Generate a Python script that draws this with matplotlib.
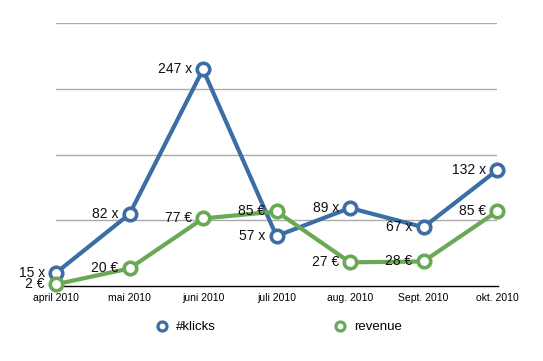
import matplotlib
matplotlib.use("Agg")
import matplotlib.pyplot as plt
from matplotlib.lines import Line2D

months = ["april 2010", "mai 2010", "juni 2010", "juli 2010", "aug. 2010", "Sept. 2010", "okt. 2010"]
klicks = [15, 82, 247, 57, 89, 67, 132]
revenue = [2, 20, 77, 85, 27, 28, 85]
y_ticks = [0, 75, 150, 225, 300]

plt.rcParams['font.family'] = ['Liberation Sans', 'DejaVu Sans']
blue = "#3c6da4"
green = "#69a855"

fig = plt.figure(figsize=(5.43, 3.61), dpi=100)
ax = fig.add_axes([56/543, 1-286/361, (497-56)/543, (286-23)/361])
x = list(range(len(months)))

for yv in y_ticks[1:]:
    ax.axhline(yv, color="#aaaaaa", lw=1, zorder=0)

ax.plot(x, klicks, color=blue, lw=3, marker="o", ms=9, mfc="white", mec=blue, mew=2.6, zorder=3, clip_on=False)
ax.plot(x, revenue, color=green, lw=3, marker="o", ms=9, mfc="white", mec=green, mew=2.6, zorder=4, clip_on=False)

for xi, v in zip(x, klicks):
    ax.annotate(f"{v} x", (xi, v), xytext=(-8, 0), textcoords="offset points",
                ha="right", va="center", fontsize=10, color="#111111", zorder=6)
for xi, v in zip(x, revenue):
    ax.annotate(f"{v} €", (xi, v), xytext=(-8, 0), textcoords="offset points",
                ha="right", va="center", fontsize=10, color="#111111", zorder=6)

ax.set_xlim(0, len(months) - 1)
ax.set_ylim(y_ticks[0], y_ticks[-1])
ax.set_yticks([])
ax.set_xticks(x)
ax.set_xticklabels(months, fontsize=7.5)
ax.tick_params(axis="x", length=0, pad=5)
for s in ["top", "right", "left"]:
    ax.spines[s].set_visible(False)
ax.spines["bottom"].set_color("black")
ax.spines["bottom"].set_linewidth(1)
ax.spines["bottom"].set_bounds(0, len(months) - 1 + 0.01)

handles = [Line2D([], [], ls="none", marker="o", ms=6.5, mfc="white", mec=blue, mew=2.3),
           Line2D([], [], ls="none", marker="o", ms=6.5, mfc="white", mec=green, mew=2.3)]
fig.legend(handles, ["#klicks", "revenue"], loc="center", bbox_to_anchor=(0.512, 1-327/361),
           ncol=2, frameon=False, fontsize=9.5, columnspacing=8.8, handletextpad=0.5, handlelength=1.2)

fig.savefig("out.png", dpi=100)
